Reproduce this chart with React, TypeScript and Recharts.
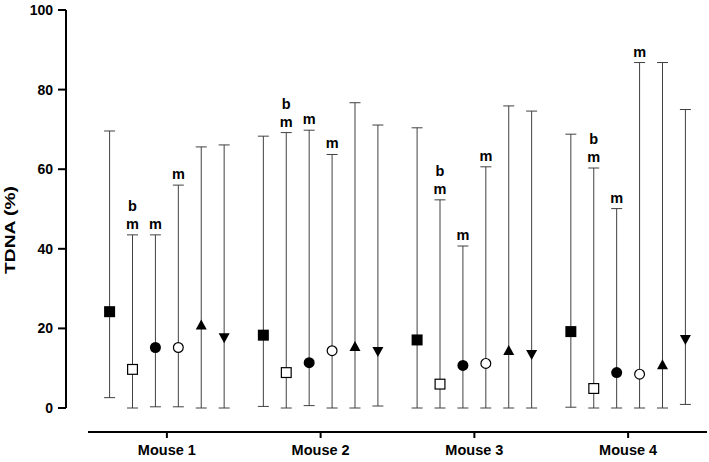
import React from 'react';
import { ScatterChart, Scatter, XAxis, YAxis, ErrorBar } from 'recharts';

const categories = ['Mouse 1', 'Mouse 2', 'Mouse 3', 'Mouse 4'];
const yTicks = [0, 20, 40, 60, 80, 100];
const xTicks = [1, 2, 3, 4];

// centre values (marker)
const filledSquareMean = [24.2, 18.3, 17.1, 19.2];
const openSquareMean = [9.7, 8.9, 6.0, 4.9];
const filledCircleMean = [15.2, 11.4, 10.7, 8.9];
const openCircleMean = [15.2, 14.4, 11.2, 8.5];
const triangleUpMean = [21.0, 15.6, 14.6, 11.0];
const triangleDownMean = [17.5, 14.1, 13.3, 17.1];

// range minimum
const filledSquareMin = [2.6, 0.4, 0.0, 0.2];
const openSquareMin = [0.0, 0.0, 0.0, 0.0];
const filledCircleMin = [0.3, 0.6, 0.0, 0.0];
const openCircleMin = [0.3, 0.0, 0.0, 0.0];
const triangleUpMin = [0.0, 0.0, 0.0, 0.0];
const triangleDownMin = [0.0, 0.5, 0.0, 0.9];

// range maximum
const filledSquareMax = [69.6, 68.3, 70.4, 68.8];
const openSquareMax = [43.5, 69.2, 52.3, 60.3];
const filledCircleMax = [43.5, 69.8, 40.7, 50.1];
const openCircleMax = [56.0, 63.7, 60.6, 86.8];
const triangleUpMax = [65.6, 76.7, 75.9, 86.8];
const triangleDownMax = [66.1, 71.1, 74.6, 75.0];

// significance letters (top to bottom)
const noLetters: string[][] = [[], [], [], []];
const openSquareLetters = [['b', 'm'], ['b', 'm'], ['b', 'm'], ['b', 'm']];
const filledCircleLetters = [['m'], ['m'], ['m'], ['m']];
const openCircleLetters = [['m'], ['m'], ['m'], ['m']];

type MarkerType = 'filledSquare' | 'openSquare' | 'filledCircle' | 'openCircle' | 'triangleUp' | 'triangleDown';

const seriesList: { name: string; marker: MarkerType; mean: number[]; min: number[]; max: number[]; letters: string[][] }[] = [
  { name: 'A', marker: 'filledSquare', mean: filledSquareMean, min: filledSquareMin, max: filledSquareMax, letters: noLetters },
  { name: 'B', marker: 'openSquare', mean: openSquareMean, min: openSquareMin, max: openSquareMax, letters: openSquareLetters },
  { name: 'C', marker: 'filledCircle', mean: filledCircleMean, min: filledCircleMin, max: filledCircleMax, letters: filledCircleLetters },
  { name: 'D', marker: 'openCircle', mean: openCircleMean, min: openCircleMin, max: openCircleMax, letters: openCircleLetters },
  { name: 'E', marker: 'triangleUp', mean: triangleUpMean, min: triangleUpMin, max: triangleUpMax, letters: noLetters },
  { name: 'F', marker: 'triangleDown', mean: triangleDownMean, min: triangleDownMin, max: triangleDownMax, letters: noLetters },
];

const GROUP_STEP = 0.149;
const FONT = '"Liberation Sans", Arial, Helvetica, sans-serif';

const seriesData = seriesList.map((s, i) =>
  categories.map((_, k) => ({
    x: k + 1 + (i - 2.5) * GROUP_STEP,
    y: s.mean[k],
    err: [s.mean[k] - s.min[k], s.max[k] - s.mean[k]],
  }))
);

const letterData = seriesList.flatMap((s, i) =>
  categories
    .map((_, k) => ({ x: k + 1 + (i - 2.5) * GROUP_STEP, y: s.max[k], letters: s.letters[k] }))
    .filter((p) => p.letters.length > 0)
);

const makeMarker = (type: MarkerType) => (props: any) => {
  const { cx, cy } = props;
  if (cx == null || cy == null) return <g />;
  const h = 5.5;
  switch (type) {
    case 'filledSquare':
      return <rect x={cx - h} y={cy - h} width={2 * h} height={2 * h} fill="#000" />;
    case 'openSquare':
      return <rect x={cx - h + 0.6} y={cy - h + 0.6} width={2 * h - 1.2} height={2 * h - 1.2} fill="#fff" stroke="#000" strokeWidth={1.2} />;
    case 'filledCircle':
      return <circle cx={cx} cy={cy} r={h} fill="#000" />;
    case 'openCircle':
      return <circle cx={cx} cy={cy} r={h - 0.6} fill="#fff" stroke="#000" strokeWidth={1.2} />;
    case 'triangleUp':
      return <path d={`M${cx - h},${cy + h - 0.5} L${cx + h},${cy + h - 0.5} L${cx},${cy - h + 0.5} Z`} fill="#000" />;
    case 'triangleDown':
      return <path d={`M${cx - h},${cy - h + 0.5} L${cx + h},${cy - h + 0.5} L${cx},${cy + h - 0.5} Z`} fill="#000" />;
  }
  return <g />;
};

const LetterShape = (props: any) => {
  const { cx, cy, payload } = props;
  if (cx == null || cy == null) return <g />;
  const letters: string[] = payload.letters;
  const n = letters.length;
  return (
    <g>
      {letters.map((l, j) => (
        <text
          key={j}
          x={cx}
          y={cy - 6 - (n - 1 - j) * 18}
          textAnchor="middle"
          fontFamily={FONT}
          fontWeight={700}
          fontSize={14.5}
          fill="#000"
        >
          {l}
        </text>
      ))}
    </g>
  );
};

const YLabel = () => (
  <text
    x={14.5}
    y={230}
    transform="rotate(-90 14.5 230)"
    textAnchor="middle"
    fontFamily={FONT}
    fontWeight={700}
    fontSize={14}
    fill="#000"
    textLength={88}
    lengthAdjust="spacingAndGlyphs"
  >
    TDNA (%)
  </text>
);

export default function App() {
  return (
    <div>
      <style>{`body{margin:0;background:#fff}`}</style>
      <ScatterChart width={709} height={462} margin={{ top: 10, right: 2, bottom: 0, left: 0 }}>
        <XAxis
          type="number"
          dataKey="x"
          domain={[0.5, 4.5]}
          ticks={xTicks}
          tickFormatter={(v: number) => categories[v - 1] ?? ''}
          padding={{ left: 24, right: 2 }}
          height={30}
          tickSize={6}
          tickMargin={7}
          axisLine={{ stroke: '#000', strokeWidth: 2, strokeDasharray: '0 22 1000' }}
          tickLine={{ stroke: '#000', strokeWidth: 2 }}
          tick={{ fontSize: 14.5, fontWeight: 700, fill: '#000', fontFamily: FONT }}
          allowDataOverflow
        />
        <YAxis
          type="number"
          dataKey="y"
          domain={[-6.03, 100]}
          ticks={yTicks}
          width={66}
          tickSize={8}
          tickMargin={5}
          axisLine={{ stroke: '#000', strokeWidth: 2, strokeDasharray: '398 200' }}
          tickLine={{ stroke: '#000', strokeWidth: 2 }}
          tick={{ fontSize: 14, fontWeight: 700, fill: '#000', fontFamily: FONT }}
          label={{ content: () => <YLabel /> }}
          allowDataOverflow
        />
        {seriesList.map((s, i) => (
          <Scatter
            key={s.name}
            name={s.name}
            data={seriesData[i]}
            shape={makeMarker(s.marker)}
            isAnimationActive={false}
          >
            <ErrorBar dataKey="err" direction="y" width={5.5} stroke="#404040" strokeWidth={1} isAnimationActive={false} />
          </Scatter>
        ))}
        <Scatter name="letters" data={letterData} shape={LetterShape} isAnimationActive={false} />
      </ScatterChart>
    </div>
  );
}
